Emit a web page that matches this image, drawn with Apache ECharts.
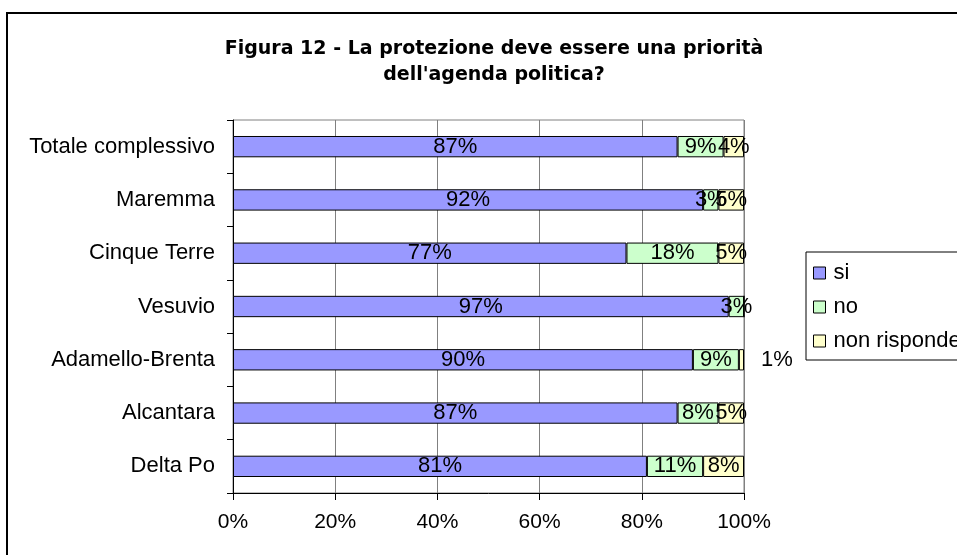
<!DOCTYPE html>
<html>
<head>
<meta charset="utf-8">
<script src="https://cdn.jsdelivr.net/npm/echarts@6/dist/echarts.min.js"></script>
<style>html,body{margin:0;padding:0;background:#fff}#c{width:957px;height:555px}</style>
</head>
<body>
<div id="c"></div>
<script>
const titleLines = ["Figura 12 - La protezione deve essere una priorità", "dell'agenda politica?"];
const categories = ["Totale complessivo", "Maremma", "Cinque Terre", "Vesuvio", "Adamello-Brenta", "Alcantara", "Delta Po"];
const seriesNames = ["si", "no", "non risponde"];
const siValues = [87, 92, 77, 97, 90, 87, 81];
const noValues = [9, 3, 18, 3, 9, 8, 11];
const nrValues = [4, 5, 5, 0, 1, 5, 8];
const xTicks = [0, 20, 40, 60, 80, 100];

const colors = ["#9999FF", "#CCFFCC", "#FFFFCC"];
const FONT = "Liberation Sans, Arial, sans-serif";
const FS = 22;

function mkData(vals) {
  return vals.map(v => {
    const d = { value: v };
    if (v > 0 && v <= 1) {
      d.label = { position: 'right', distance: 17 };
    }
    return d;
  });
}

const allVals = [siValues, noValues, nrValues];
const series = seriesNames.map((name, i) => ({
  name: name,
  type: 'bar',
  stack: 'total',
  barWidth: '40%',
  data: mkData(allVals[i]),
  itemStyle: { color: colors[i], borderColor: '#000', borderWidth: 1 },
  label: {
    show: true,
    position: 'inside',
    color: '#000',
    fontSize: FS,
    fontFamily: FONT,
    formatter: p => (p.value > 0 ? p.value + '%' : '')
  }
}));

const chart = echarts.init(document.getElementById('c'), null, { renderer: 'canvas' });
chart.setOption({
  animation: false,
  backgroundColor: '#fff',
  title: {
    text: titleLines.join('\n'),
    left: 489,
    textAlign: 'center',
    top: 31,
    textStyle: { fontSize: 19, fontWeight: 'bold', fontFamily: "DejaVu Sans, sans-serif", color: '#000', lineHeight: 26 }
  },
  legend: {
    orient: 'vertical',
    left: 806,
    top: 252,
    data: seriesNames,
    icon: 'rect',
    itemWidth: 12,
    itemHeight: 12,
    itemGap: 12,
    padding: [10, 40, 8, 7],
    borderColor: '#000',
    borderWidth: 1,
    backgroundColor: '#fff',
    textStyle: { fontSize: FS, fontFamily: FONT, color: '#000', padding: [0, 0, 0, 3] },
    itemStyle: { borderColor: '#000', borderWidth: 1 }
  },
  grid: {
    left: 233, right: 213, top: 120, bottom: 62,
    show: true, borderColor: '#808080', borderWidth: 1, containLabel: false
  },
  xAxis: {
    type: 'value',
    min: xTicks[0],
    max: xTicks[xTicks.length - 1],
    interval: xTicks[1] - xTicks[0],
    axisLine: { show: true, lineStyle: { color: '#000', width: 1 } },
    axisTick: { show: true, length: 7, lineStyle: { color: '#000' } },
    splitLine: { show: true, lineStyle: { color: '#808080', width: 1 } },
    axisLabel: { formatter: '{value}%', fontSize: 21, fontFamily: FONT, color: '#000', margin: 19 }
  },
  yAxis: {
    type: 'category',
    inverse: true,
    data: categories,
    axisLine: { show: true, lineStyle: { color: '#000', width: 1 } },
    axisTick: { show: true, length: 6, lineStyle: { color: '#000' } },
    axisLabel: { fontSize: FS, fontFamily: FONT, color: '#000', margin: 18 }
  },
  graphic: [{
    type: 'rect',
    z: -10,
    shape: { x: 7, y: 13, width: 1000, height: 600 },
    style: { fill: 'none', stroke: '#000', lineWidth: 2 }
  }],
  series: series
});
</script>
</body>
</html>
